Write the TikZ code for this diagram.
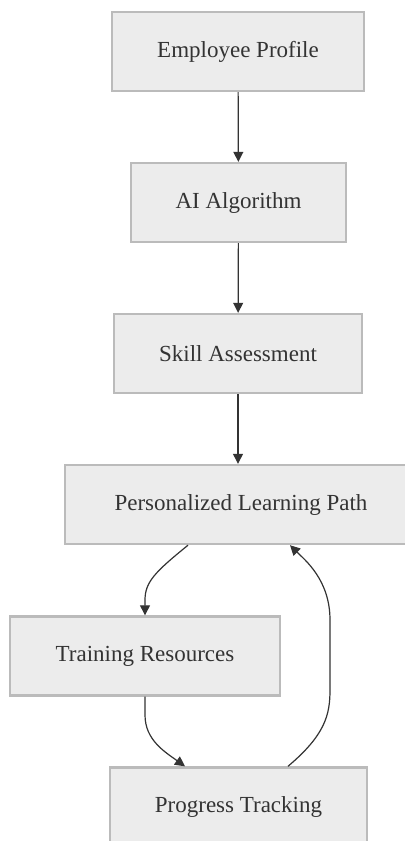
\documentclass[tikz,border=0pt]{standalone}
\usepackage{fontspec}
\setmainfont{Liberation Serif}
\usepackage{tikz}
\usetikzlibrary{arrows.meta}
\definecolor{cajafondo}{HTML}{ECECEC}
\definecolor{cajaborde}{HTML}{BBBBBB}
\definecolor{linea}{HTML}{333333}

\begin{document}
\begin{tikzpicture}[x=0.5pt,y=-0.5pt,
  caja/.style={draw=cajaborde, fill=cajafondo, line width=1.2pt,
    minimum height=39.5pt, inner sep=0pt, text=linea,
    font=\fontsize{11.5}{14}\selectfont},
  flecha/.style={draw=linea, line width=0.6pt,
    -{Triangle[length=5pt,width=5pt]}}]
  \useasboundingbox (0,0) rectangle (404,841);

  % Cajas
  \node[caja, minimum width=126pt]   (perfil)    at (238,51.5)  {Employee Profile};
  \node[caja, minimum width=107.5pt] (algoritmo) at (238.5,202.5) {AI Algorithm};
  \node[caja, minimum width=124pt]   (evaluacion) at (238,353.5) {Skill Assessment};
  \node[caja, minimum width=176pt]   (ruta)      at (241,504.5) {Personalized Learning Path};
  \node[caja, minimum width=135pt]   (recursos)  at (145,656)   {Training Resources};
  \node[caja, minimum width=128.5pt] (progreso)  at (238.5,807) {Progress Tracking};

  % Flechas rectas
  \draw[flecha] (perfil) -- (algoritmo);
  \draw[flecha] (algoritmo) -- (evaluacion);
  \draw[flecha] (evaluacion) -- (ruta.north -| evaluacion);

  % Flechas curvas
  \draw[flecha] ([xshift=-26.5pt]ruta.south) .. controls (155,572) and (145,582) .. (145,600) -- (recursos.north);
  \draw[flecha] (recursos.south) -- (145,715) .. controls (145,740) and (165,752) .. ([xshift=-26.75pt]progreso.north);
  \draw[flecha] ([xshift=24.75pt]progreso.north) .. controls (325,735) and (330,715) .. (330,690)
    -- (330,620) .. controls (330,580) and (305,560) .. ([xshift=24.5pt]ruta.south);

\end{tikzpicture}
\end{document}
